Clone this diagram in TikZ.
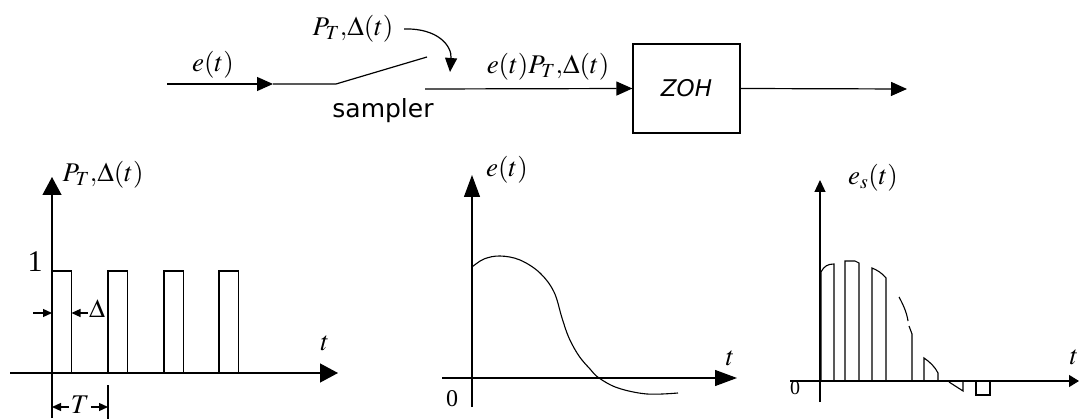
\documentclass[tikz,border=0pt]{standalone}
\usepackage{mathptmx}
\usepackage{fontspec}
\setmainfont{Liberation Serif}
\newfontfamily\sansf{DejaVu Sans}
\usetikzlibrary{arrows.meta}
\begin{document}
\begin{tikzpicture}[x=1pt,y=-1pt, line width=1.2pt, line join=miter,
  lbl/.style={font=\fontsize{27}{30}\selectfont, inner sep=0pt},
  bigarrow/.style={-{Triangle[length=16pt,width=14pt]}},
  smallarrow/.style={-{Triangle[length=9pt,width=8pt]}},
  leftaxis/.style={-{Triangle[length=18pt,width=19pt]}},
  midaxis/.style={-{Triangle[length=22pt,width=16pt]}},
  rightaxis/.style={-{Triangle[length=12pt,width=11pt]}},
  sig/.style={line width=1.1pt},
]
\useasboundingbox (0,0) rectangle (1081,419);

% ---------------- block diagram ----------------
\coordinate (in) at (167,84);
\coordinate (inarrow) at (273,84);
\coordinate (sw) at (336,84);
\coordinate (swend) at (427,57);
\coordinate (outstart) at (425,89);
\coordinate (out) at (907,89);
\node[draw, minimum width=107pt, minimum height=89pt, inner sep=0pt,
      font=\sansf\itshape\fontsize{23}{26}\selectfont] (zoh) at (686.5,88.5) {ZOH};

\draw[bigarrow] (in) -- (inarrow);
\draw (inarrow) -- (sw) -- (swend);
\draw[bigarrow] (outstart) -- (zoh.west);
\draw[bigarrow] (zoh.east) -- (out);

\node[lbl] (et) at (213,65) {$e(t)$};
\node[lbl] (pt) at (353,29) {$P_T{,}\Delta(t)$};
\node[lbl] (etpt) at (548,67) {$e(t)P_T{,}\Delta(t)$};
\node[font=\sansf\fontsize{25}{28}\selectfont, inner sep=0pt, anchor=base] (samp) at (383,118) {sampler};
\coordinate (ptarrow) at (450,72);
\draw[-{Triangle[length=14pt,width=12pt]}] ([xshift=10pt]pt.east) .. controls (438,28) and (452,46) .. (ptarrow);

% ---------------- left plot ----------------
\coordinate (lvb) at (52,418);
\coordinate (lvt) at (52,177);
\coordinate (lhl) at (10,373);
\coordinate (lhr) at (338,373);
\draw[leftaxis] (lvb) -- (lvt);
\draw[leftaxis] (lhl) -- (lhr);
\foreach \x in {52,108,164,219}{
  \draw[sig] (\x,373) -- (\x,271) -- (\x+19.5,271) -- (\x+19.5,373);
}
\node[font=\fontsize{30}{32}\selectfont, inner sep=0pt] (one) at (35,262) {1};
\node[lbl, anchor=west] (plbl) at (62,175) {$P_T{,}\Delta(t)$};
\node[lbl] (tl) at (325,343) {$t$};
% Delta
\coordinate (da) at (33,313);
\coordinate (db) at (52,313);
\coordinate (dc) at (88,313);
\coordinate (dd) at (71.5,313);
\draw[smallarrow] (da) -- (db);
\draw[smallarrow] (dc) -- (dd);
\node[font=\fontsize{26}{28}\selectfont, inner sep=0pt] (dlt) at (97,309) {$\Delta$};
% T
\node[lbl, inner xsep=1pt] (tT) at (80,405) {$T$};
\coordinate (ta) at (52,407);
\coordinate (tb) at (108,407);
\coordinate (tickt) at (108,385);
\coordinate (tickb) at (108,419);
\draw[smallarrow] (tT.west |- ta) -- (ta);
\draw[smallarrow] (tT.east |- tb) -- (tb);
\draw (tickt) -- (tickb);

% ---------------- middle plot ----------------
\coordinate (mvb) at (472,407);
\coordinate (mvt) at (472,175);
\coordinate (mhl) at (442,378);
\coordinate (mhr) at (737,378);
\draw[midaxis] (mvb) -- (mvt);
\draw[midaxis] (mhl) -- (mhr);
\draw[sig] plot[smooth, tension=0.6] coordinates {(472,267) (484,259) (500,256) (520,260) (540,273) (554,292) (562,318) (569,338) (579,356) (590,369) (599,378) (618,388) (647,394) (678,393)};
\node[lbl] (me) at (507,170) {$e(t)$};
\node[font=\fontsize{24}{26}\selectfont, inner sep=0pt] (m0) at (452,399) {0};
\node[lbl] (mt) at (730,358) {$t$};

% ---------------- right plot ----------------
\coordinate (rvb) at (820,402);
\coordinate (rvt) at (820,180);
\coordinate (rhl) at (790,381);
\coordinate (rhr) at (1079,381);
\draw[rightaxis] (rvb) -- (rvt);
\draw[-{Triangle[length=10pt,width=12pt]}] (rhl) -- (rhr);
\draw[sig] (821,381) -- (821,272) .. controls (824,266) and (828,264) .. (834,264) -- (834,381);
\draw[sig] (845,381) -- (845,261) -- (855,261) -- (859,263) -- (859,381);
\draw[sig] (872,381) -- (872,268) .. controls (877,270) and (882,273) .. (886,278) -- (886,381);
\draw[sig] (899,297) .. controls (904,306) and (907,314) .. (908,321);
\draw[sig] (909,326) -- (912,334) -- (912,381);
\draw[sig] (924,381) -- (924,358) .. controls (930,362) and (935,367) .. (938,373) -- (938,381);
\draw[sig] (949,382) -- (963,391) -- (963,381);
\draw[sig] (976,381) -- (976,395) -- (990,395) -- (990,381);
\node[lbl] (rlbl) at (873,178) {$e_s(t)$};
\node[font=\fontsize{20}{22}\selectfont, inner sep=0pt] (r0) at (795,388) {0};
\node[lbl] (rt) at (1074,357) {$t$};
\end{tikzpicture}
\end{document}
